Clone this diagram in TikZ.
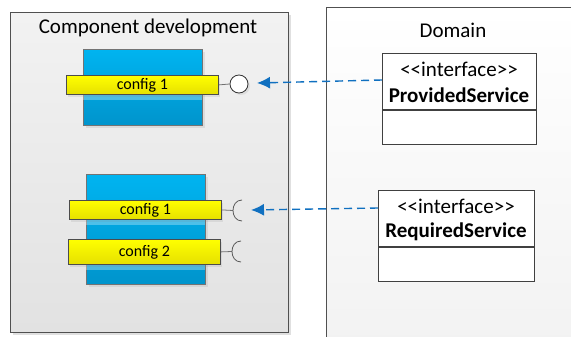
\documentclass[tikz,border=0pt]{standalone}
\usepackage{fontspec}
\setmainfont{Carlito}[Ligatures=TeXOff]
\usetikzlibrary{arrows.meta,shadows}
\definecolor{frameline}{HTML}{505050}
\definecolor{frametop}{HTML}{F2F2F2}
\definecolor{framebot}{HTML}{E2E2E2}
\definecolor{comptop}{HTML}{00B4F0}
\definecolor{compbot}{HTML}{0094CC}
\definecolor{cfgtop}{HTML}{FFFF00}
\definecolor{cfgbot}{HTML}{E6E000}
\definecolor{arrowblue}{HTML}{1070C0}
\definecolor{portline}{HTML}{707070}
\tikzset{
  x=1pt, y=-1pt,
  frame/.style={draw=frameline, line width=1.1pt, anchor=north west, inner sep=0pt},
  compbox/.style={draw=frameline!80, line width=0.8pt, top color=comptop, bottom color=compbot,
    anchor=north west, inner sep=0pt, drop shadow={shadow xshift=3pt, shadow yshift=-3pt, opacity=0.15}},
  cfgbar/.style={draw=black!70, line width=0.8pt, top color=cfgtop, bottom color=cfgbot,
    anchor=north west, inner sep=0pt, font=\fontsize{16}{18}\selectfont,
    drop shadow={shadow xshift=2pt, shadow yshift=-3pt, opacity=0.15}},
  band/.style={fill=white, opacity=0.3, draw=none, anchor=north west, inner sep=0pt},
  classbox/.style={draw=black!75, line width=1.1pt, fill=white, anchor=north west, inner sep=0pt},
  bigtext/.style={font=\fontsize{21}{24}\selectfont},
  depend/.style={draw=arrowblue, line width=1.4pt, dash pattern=on 8pt off 5pt,
    -{Latex[length=13pt,width=12pt]}},
  portstem/.style={draw=portline, line width=0.8pt},
  socket/.style={draw=black!65, line width=0.8pt},
  ballport/.style={circle, draw=black!80, line width=0.8pt, fill=white, minimum size=18pt, inner sep=0pt,
    drop shadow={shadow xshift=2pt, shadow yshift=-2pt, opacity=0.15}},
}
\begin{document}
\begin{tikzpicture}
\useasboundingbox (0,0) rectangle (571,337);
\fill[white] (0,0) rectangle (571,337);

% left package: component development
\fill[black!12] (13,15) rectangle (291,335);
\node[frame, minimum width=278pt, minimum height=320pt, top color=frametop, bottom color=framebot] (dev) at (10,12) {};
\node[bigtext] (devtitle) at (148,28) {Component development};

% right package: domain
\node[frame, minimum width=260pt, minimum height=340pt, top color=white, bottom color=frametop] (dom) at (326,7) {};
\node[bigtext] (domtitle) at (453,30) {Domain};

% provider component
\node[compbox, minimum width=119pt, minimum height=76pt] (prov) at (83,49) {};
\node[band, minimum width=119pt, minimum height=5pt] (provband) at (83,94.5) {};
\node[cfgbar, minimum width=152pt, minimum height=19pt] (pcfg) at (66,75) {config 1};
\node[ballport] (ball) at (239,84) {};
\draw[portstem] (pcfg.east) -- (ball.west);

% consumer component
\node[compbox, minimum width=119pt, minimum height=110pt] (cons) at (86,174) {};
\node[band, minimum width=119pt, minimum height=5pt] (consband1) at (86,219.5) {};
\node[band, minimum width=119pt, minimum height=5pt] (consband2) at (86,264.5) {};
\node[cfgbar, minimum width=152pt, minimum height=19pt] (ccfg1) at (69,200) {config 1};
\node[cfgbar, minimum width=152pt, minimum height=25pt] (ccfg2) at (68,239) {config 2};

% socket ports: a stem and a half-open cup
\coordinate (sock1) at (233,210.5);
\coordinate (sock2) at (232,251.5);
\draw[portstem] (ccfg1.east) -- (sock1);
\draw[portstem] (ccfg2.east) -- (sock2);
\draw[socket] ([shift={(9,-10.5)}]sock1) .. controls ([shift={(-3,-10.5)}]sock1) and ([shift={(-3,10.5)}]sock1) .. ([shift={(9,10.5)}]sock1);
\draw[socket] ([shift={(9,-10.5)}]sock2) .. controls ([shift={(-3,-10.5)}]sock2) and ([shift={(-3,10.5)}]sock2) .. ([shift={(9,10.5)}]sock2);

% interface classes
\node[classbox, minimum width=154pt, minimum height=91pt] (provsvc) at (382,53) {};
\draw[black!75, line width=1.1pt] (382,110) -- (536,110);
\node[bigtext] (provst) at (459,69) {<<interface>>};
\node[bigtext, font=\bfseries\fontsize{21}{24}\selectfont] (provname) at (459,95) {ProvidedService};

\node[classbox, minimum width=156pt, minimum height=91pt] (reqsvc) at (378,190) {};
\draw[black!75, line width=1.1pt] (378,247) -- (534,247);
\node[bigtext] (reqst) at (456,206) {<<interface>>};
\node[bigtext, font=\bfseries\fontsize{21}{24}\selectfont] (reqname) at (456,232) {RequiredService};

% dependencies
\coordinate (provtip) at (257,83);
\coordinate (reqtip) at (251,210);
\draw[depend] (provsvc.west |- 0,80) -- (provtip);
\draw[depend] (reqsvc.west |- 0,208) -- (reqtip);
\end{tikzpicture}
\end{document}
